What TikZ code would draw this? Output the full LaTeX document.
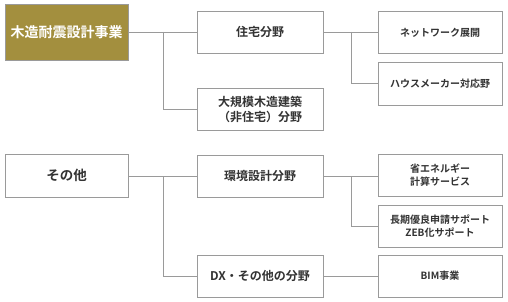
\documentclass[tikz,border=0pt]{standalone}
\usepackage{fontspec}
\newfontfamily\jp{Noto Sans CJK JP}[BoldFont={Noto Sans CJK JP Bold}]
\definecolor{olive}{HTML}{A38F3E}
\definecolor{edge}{HTML}{9A9A9A}
\definecolor{ink}{HTML}{333333}

\begin{document}
\begin{tikzpicture}[x=1pt,y=-1pt,
    box/.style={draw=edge,line width=0.9pt,fill=white,inner sep=0pt,
      align=center,text=ink,font=\jp\bfseries\fontsize{12}{15}\selectfont},
    topbox/.style={box,minimum width=123pt,minimum height=56pt},
    rootbox/.style={box,minimum width=123pt,minimum height=43pt,
      font=\jp\bfseries\fontsize{13.5}{16}\selectfont},
    midbox/.style={box,minimum width=126pt,minimum height=42pt},
    leafbox/.style={box,minimum width=124pt,minimum height=42pt,
      font=\jp\bfseries\fontsize{10}{13}\selectfont},
    link/.style={draw=edge,line width=0.9pt}]
  \useasboundingbox (0,0) rectangle (508,302);

  % Roots
  \node[topbox,fill=olive,text=white,font=\jp\bfseries\fontsize{14}{17}\selectfont]
    (wood) at (66.5,32) {木造耐震設計事業};
  \node[rootbox] (other) at (66.5,175.5) {その他};

  % Middle column
  \node[midbox] (house) at (260,32) {住宅分野};
  \node[midbox] (large) at (260,109) {大規模木造建築\\（非住宅）分野};
  \node[midbox] (env) at (260,176) {環境設計分野};
  \node[midbox] (dx) at (260,276) {DX・その他の分野};

  % Right column
  \node[leafbox] (net) at (440,32.5) {ネットワーク展開};
  \node[leafbox,minimum height=43pt] (maker) at (440,83.5) {ハウスメーカー対応野};
  \node[leafbox] (energy) at (440,175) {省エネルギー\\計算サービス};
  \node[leafbox] (zeb) at (440,226) {長期優良申請サポート\\ZEB化サポート};
  \node[leafbox] (bim) at (440,276) {BIM事業};

  % Branch points
  \coordinate (b1) at (163,32);
  \coordinate (b2) at (351,32);
  \coordinate (b3) at (163,176);
  \coordinate (b4) at (351,176);

  % Connectors
  \draw[link] (wood.east |- b1) -- (house.west);
  \draw[link] (b1) |- (large.west);
  \draw[link] (house.east) -- (net.west |- house.east);
  \draw[link] (b2) |- (maker.west);
  \draw[link] (other.east |- b3) -- (env.west);
  \draw[link] (b3) |- (dx.west);
  \draw[link] (env.east) -- (energy.west |- env.east);
  \draw[link] (b4) |- (zeb.west);
  \draw[link] (dx.east) -- (bim.west |- dx.east);
\end{tikzpicture}
\end{document}
